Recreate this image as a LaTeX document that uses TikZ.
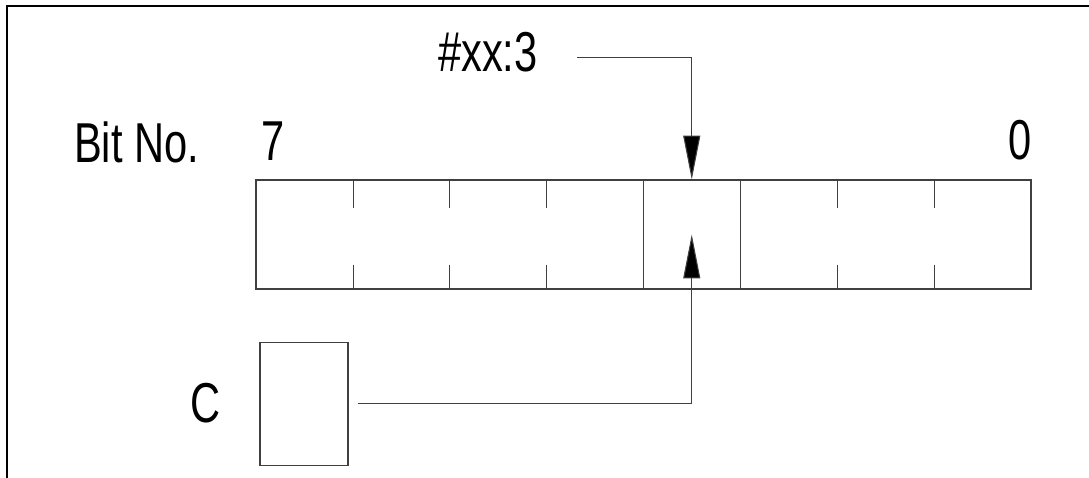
\documentclass[tikz,border=0pt]{standalone}
\usepackage{fontspec}
\setmainfont{Liberation Sans}[FakeStretch=0.74]
\usetikzlibrary{arrows.meta}
\usetikzlibrary{positioning}
\tikzset{
  frame/.style = {draw, line width=1.1pt},
  register/.style = {rectangle, draw=black!75, line width=0.6pt,
    minimum width=15.5cm, minimum height=2.18cm, inner sep=0pt},
  cell/.style = {rectangle, minimum width=1.9375cm, minimum height=2.18cm,
    inner sep=0pt},
  flag/.style = {rectangle, draw=black!75, line width=0.6pt,
    minimum width=1.76cm, minimum height=2.46cm, inner sep=0pt},
  lbl/.style = {inner sep=0pt, font=\fontsize{32}{38}\selectfont},
  tick/.style = {draw=black!75, line width=0.6pt},
  line/.style = {draw=black!75, line width=0.6pt,
    -{Triangle[length=0.88cm, width=0.34cm, fill=black]}}
}
\begin{document}
\begin{tikzpicture}
    \useasboundingbox (0,0) rectangle (21.78,-9.56);
    % Frame
    \draw [frame] (0.14,-9.6) -- (0.14,-0.12) -- (21.8,-0.12);

    % Place nodes
    \node [register] (reg) at (12.87,-4.69) {};
    \foreach \i [count=\k from 0] in {7,...,0}
        \node [cell, anchor=west] (b\i) at ([xshift=\k*1.9375cm]reg.west) {};
    \node [lbl, anchor=south west] (n7) at ([xshift=0.12cm, yshift=0.38cm]reg.north west) {7};
    \node [lbl, anchor=south east] (n0) at ([yshift=0.38cm]reg.north east) {0};
    \node [lbl, anchor=base east] (bitno) at ([xshift=-1.24cm, yshift=-0.04cm]n7.base west) {Bit No.};
    \node [lbl, anchor=base east] (addr) at (10.76,-1.44) {\#xx:3};
    \node [flag, below right=1.04cm and 0.08cm of reg.south west] (cbox) {};
    \node [lbl, left=0.78cm of cbox] (c) {C};

    % Cell dividers
    \foreach \i in {7,6,5,2,1} {
        \path [tick] (b\i.north east) -- ++(0,-0.56);
        \path [tick] (b\i.south east) -- ++(0,0.48);
    }
    \foreach \i in {4,3}
        \path [tick] (b\i.north east) -- (b\i.south east);

    % Draw edges
    \path [line] ([xshift=0.78cm, yshift=-0.1cm]addr.east) -| (b3.north);
    \path [line, shorten <=0.18cm] (cbox.east) -| (b3.center);
\end{tikzpicture}
\end{document}
